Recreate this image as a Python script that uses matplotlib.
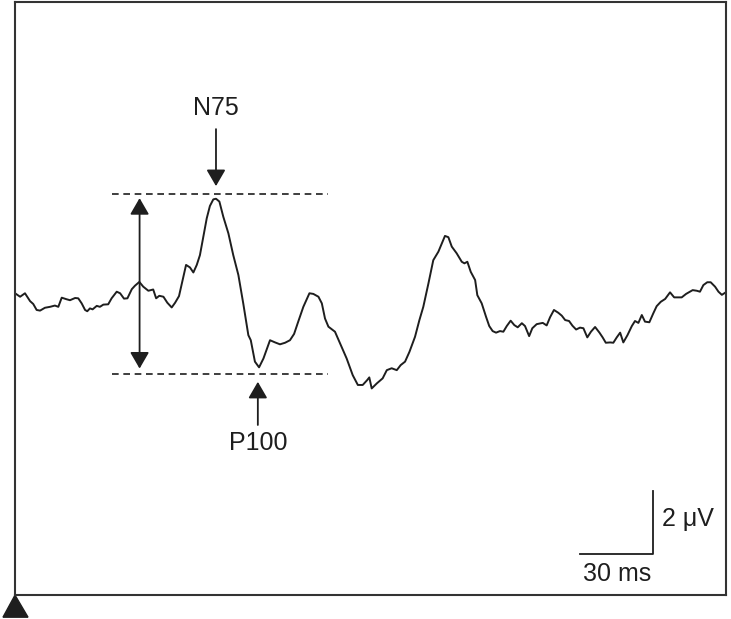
import matplotlib
matplotlib.use("Agg")
import matplotlib.pyplot as plt
from matplotlib.patches import FancyArrowPatch, Polygon

# ---- data: VEP waveform (time in ms, amplitude in uV, negative up) ----
time_ms = [0.4, 2.1, 4.1, 6.2, 7.5, 8.9, 10.3, 12.3, 14.4, 16.4, 17.8, 19.2, 21.2, 22.6,
           24.7, 26.0, 27.4, 28.8, 29.7, 30.8, 31.9, 33.6, 34.9, 36.3, 38.3, 39.7, 41.8,
           43.2, 44.8, 46.2, 48.0, 49.3, 51.1, 52.7, 54.8, 56.8, 58.0, 59.3, 61.0, 62.6,
           64.4, 65.8, 67.4, 68.9, 70.3, 71.9, 73.3, 74.7, 76.0, 77.4, 78.8, 80.1, 81.5,
           82.6, 84.0, 85.6, 87.7, 89.7, 91.8, 93.8, 95.9, 96.9, 98.6, 100.3, 102.1,
           104.8, 106.9, 108.9, 111.0, 113.0, 114.7, 116.4, 118.5, 121.0, 122.6, 124.7,
           126.1, 127.4, 128.8, 131.5, 133.6, 136.3, 138.8, 140.9, 142.9, 144.8, 145.6,
           146.6, 148.7, 151.1, 152.8, 154.8, 156.9, 158.5, 160.3, 162.1, 164.4, 166.2,
           167.8, 169.9, 171.9, 174.0, 176.7, 178.1, 179.5, 181.5, 183.6, 184.7, 185.9,
           187.3, 189.1, 190.0, 191.8, 193.6, 194.9, 196.3, 197.7, 199.3, 200.7, 202.1,
           203.7, 205.2, 206.6, 208.3, 209.6, 211.3, 212.6, 214.4, 216.9, 218.5, 219.9,
           221.5, 223.3, 224.7, 226.1, 227.7, 229.1, 230.6, 232.2, 233.6, 235.2, 236.7,
           238.4, 240.2, 241.5, 242.8, 244.6, 245.9, 247.3, 248.7, 250.0, 251.7, 253.5,
           254.8, 256.2, 257.6, 258.9, 260.7, 262.3, 263.7, 265.4, 267.2, 269.2, 270.9,
           274.0, 275.8, 278.5, 280.2, 281.5, 282.9, 284.5, 285.9, 287.7, 289.1, 290.5,
           292.1]
amp_uv = [-0.10, -0.01, -0.12, 0.13, 0.22, 0.41, 0.43, 0.34, 0.31, 0.27, 0.31, 0.02, 0.07,
          0.10, 0.03, 0.04, 0.20, 0.41, 0.45, 0.36, 0.39, 0.28, 0.31, 0.24, 0.23, 0.04,
          -0.17, -0.12, 0.05, 0.04, -0.25, -0.36, -0.48, -0.33, -0.20, -0.24, 0.04, -0.04,
          -0.01, 0.18, 0.33, 0.18, -0.03, -0.54, -1.02, -0.94, -0.78, -1.02, -1.33, -1.91,
          -2.50, -2.89, -3.10, -3.12, -3.03, -2.55, -2.02, -1.33, -0.70, 0.20, 1.21, 1.37,
          2.05, 2.23, 1.95, 1.37, 1.44, 1.50, 1.45, 1.37, 1.17, 0.78, 0.31, -0.12, -0.10,
          -0.01, 0.20, 0.68, 0.94, 1.10, 1.47, 1.95, 2.48, 2.79, 2.79, 2.63, 2.55, 2.90,
          2.74, 2.58, 2.32, 2.26, 2.32, 2.16, 2.05, 1.74, 1.26, 0.73, 0.31, -0.43, -1.17,
          -1.44, -1.94, -1.90, -1.60, -1.39, -1.12, -1.07, -1.12, -0.80, -0.54, -0.06,
          0.20, 0.63, 0.92, 1.08, 1.13, 1.08, 1.10, 0.92, 0.75, 0.89, 0.96, 0.83, 0.92,
          1.24, 0.99, 0.86, 0.82, 0.90, 0.64, 0.41, 0.50, 0.59, 0.73, 0.76, 0.91, 1.03,
          0.97, 0.99, 1.28, 1.10, 0.95, 1.13, 1.28, 1.45, 1.44, 1.45, 1.28, 1.13, 1.44,
          1.21, 0.92, 0.76, 0.82, 0.57, 0.78, 0.80, 0.52, 0.29, 0.15, 0.06, -0.15, 0.01,
          0.01, -0.10, -0.22, -0.20, -0.17, -0.38, -0.47, -0.47, -0.33, -0.17, -0.07,
          -0.15]

# annotation values
n75_time, n75_amp = 82.6, -3.27      # N75 peak level (dashed line)
p100_time, p100_amp = 99.8, 2.44     # P100 trough level (dashed line)
amp_arrow_time = 51.2
dash_range = (39.7, 128.8)
scale_ms, scale_uv = 30, 2
scale_corner = (262.4, 8.16)
xlim = (0, 292.2)
ylim = (9.44, -9.38)

plt.rcParams['font.family'] = ['Liberation Sans', 'DejaVu Sans']
col = '#1e1e1e'
fs = 18

fig = plt.figure(figsize=(7.31, 6.19), dpi=100)
ax = fig.add_axes([15 / 731, (619 - 594.5) / 619, (726 - 15) / 731, (594.5 - 1.5) / 619])
ax.set_xlim(*xlim)
ax.set_ylim(*ylim)
ax.set_xticks([])
ax.set_yticks([])
for s in ax.spines.values():
    s.set_linewidth(1.5)
    s.set_color('#333333')

ax.plot(time_ms, amp_uv, color=col, lw=1.4, solid_joinstyle='round')

# dashed reference lines
for lev in (n75_amp, p100_amp):
    ax.plot(dash_range, [lev, lev], color=col, lw=1.2, ls=(0, (4.0, 2.8)))

astyle = '-|>,head_length=10,head_width=5.8'
# double amplitude arrow
ax.add_patch(FancyArrowPatch((amp_arrow_time, n75_amp + 0.13), (amp_arrow_time, p100_amp - 0.17),
                             arrowstyle='<|-|>,head_length=10,head_width=5.8', mutation_scale=1,
                             shrinkA=0, shrinkB=0, color=col, lw=1.3))
# N75 arrow
ax.add_patch(FancyArrowPatch((n75_time, -5.33), (n75_time, -3.52), arrowstyle=astyle,
                             mutation_scale=1, shrinkA=0, shrinkB=0, color=col, lw=1.3))
ax.text(n75_time, -6.0, 'N75', ha='center', va='center', fontsize=fs, color=col)
# P100 arrow
ax.add_patch(FancyArrowPatch((p100_time, 4.06), (p100_time, 2.69), arrowstyle=astyle,
                             mutation_scale=1, shrinkA=0, shrinkB=0, color=col, lw=1.3))
ax.text(p100_time, 4.63, 'P100', ha='center', va='center', fontsize=fs, color=col)

# scale bar
cx, cy = scale_corner
ax.plot([cx - scale_ms, cx, cx], [cy, cy, cy - scale_uv], color=col, lw=1.3)
ax.text(cx + 3.5, cy - scale_uv / 2 - 0.13, '2 \u03bcV', ha='left', va='center', fontsize=fs, color=col)
ax.text(cx - scale_ms / 2, cy + 0.63, '30 ms', ha='center', va='center', fontsize=fs, color=col)

# stimulus onset triangle
ax.add_patch(Polygon([(0, 9.46), (-4.93, 10.16), (5.34, 10.16)], closed=True,
                     color=col, clip_on=False))

fig.savefig('out.png', dpi=100)
